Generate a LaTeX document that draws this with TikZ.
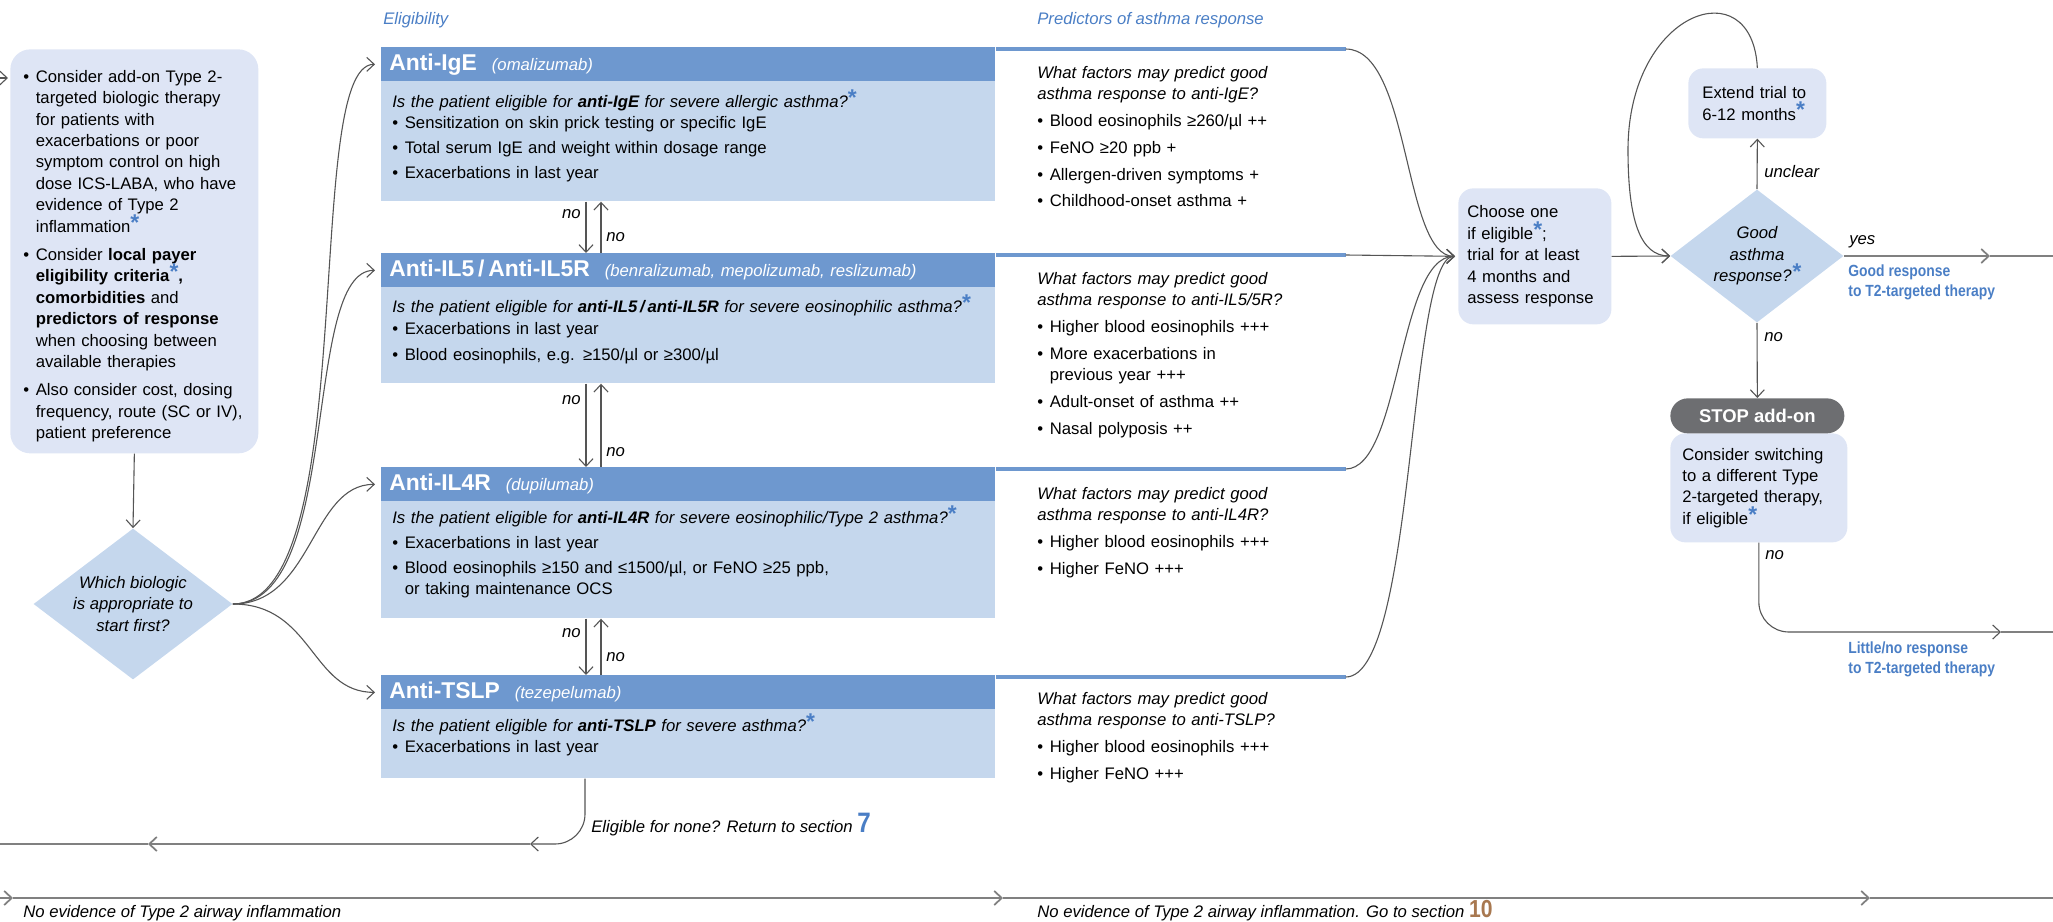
\documentclass[tikz,border=0pt]{standalone}
\usepackage{fontspec}
\setmainfont{Liberation Sans}
\newfontfamily\narrowfont[FakeStretch=0.86]{Liberation Sans}
\usetikzlibrary{shapes.geometric,arrows.meta}
\definecolor{headblue}{RGB}{110,152,207}
\definecolor{bodyblue}{RGB}{197,215,237}
\definecolor{boxlav}{RGB}{222,229,245}
\definecolor{lblblue}{RGB}{74,126,197}
\definecolor{stopgrey}{RGB}{109,110,113}
\definecolor{secbrown}{RGB}{168,120,80}
\definecolor{linegrey}{RGB}{85,85,85}

\newcommand\bast{\smash{\raisebox{0.25ex}{\textcolor{lblblue}{\fontsize{13}{13}\selectfont\bfseries*}}}}
\newcommand\bitem[2][3pt]{\par\vspace{#1}\noindent\hangindent=2.5mm\hangafter=1\makebox[2.5mm][l]{\textbullet}#2\par}
\newcommand\drug[2]{{\fontsize{13}{14}\selectfont\bfseries #1}\hspace{3mm}{\itshape #2}}

\tikzset{
  conn/.style={draw=linegrey, line width=0.22mm, >={Straight Barb[length=1.5mm,width=2.8mm]}},
  longline/.style={conn, draw=gray, line width=0.35mm},
  blueline/.style={draw=headblue, line width=0.8mm},
  headbar/.style={fill=headblue, text=white, anchor=north west, inner xsep=1.6mm, inner ysep=0pt, text width=119.6mm, minimum height=6.8mm, align=left},
  bodybox/.style={fill=bodyblue, anchor=north west, inner sep=0pt, minimum width=122.8mm},
  txt/.style={anchor=north west, inner sep=0pt, align=left},
  roundbox/.style={fill=boxlav, rounded corners=3mm, anchor=north west, inner ysep=0pt, align=left},
  decision/.style={diamond, fill=bodyblue, inner sep=-1.5mm, align=center, font=\fontsize{9.5}{12.2}\selectfont\itshape},
  stopbox/.style={fill=stopgrey, text=white, rounded corners=3.5mm, anchor=north west, minimum width=34.8mm, minimum height=7mm, inner sep=0pt, font=\fontsize{10.5}{12}\selectfont\bfseries},
  lbl/.style={inner sep=0pt, font=\fontsize{9.5}{12.2}\selectfont\itshape},
  coltitle/.style={lbl, text=lblblue, anchor=base west},
  outlbl/.style={inner sep=0pt, anchor=north west, align=left, text=lblblue, font=\narrowfont\bfseries\fontsize{9.2}{11.9}\selectfont},
}

\begin{document}
\begin{tikzpicture}[x=0.2mm,y=-0.2mm,font=\fontsize{9.5}{12.2}\selectfont]
\useasboundingbox (0,0) rectangle (2053,922);

% column titles
\node[coltitle] (elig-title) at (383,25) {Eligibility};
\node[coltitle] (pred-title) at (1037,25) {Predictors of asthma response};

% start of the section
\coordinate (in-start) at (0,78);
\node[roundbox, rounded corners=4mm, inner xsep=2.6mm, text width=44.4mm, minimum height=80.8mm] (addon) at (10,49) {%
  \bitem[0pt]{Consider add-on Type 2-\newline targeted biologic therapy\newline for patients with\newline exacerbations or poor\newline symptom control on high\newline dose ICS-LABA, who have\newline evidence of Type 2\newline inflammation\bast}
  \bitem[3.8pt]{Consider \textbf{local payer}\newline \textbf{eligibility criteria}\bast\textbf{,}\newline \textbf{comorbidities} and\newline \textbf{predictors of response}\newline when choosing between\newline available therapies}
  \bitem[3.8pt]{Also consider cost, dosing\newline frequency, route (SC or IV),\newline patient preference}};
\node[decision, minimum width=39.8mm, minimum height=30.2mm] (which) at (133,604) {Which biologic\\is appropriate to\\start first?};

% biologic boxes
\node[headbar] (ige-head) at (381,47) {\drug{Anti-IgE}{(omalizumab)}};
\node[bodybox, minimum height=24mm] (ige-body) at (381,81) {};
\node[txt, text width=118mm] (ige-txt) at (392,95) {{\itshape Is the patient eligible for \textbf{anti-IgE} for severe allergic asthma?}\bast
  \bitem[0pt]{Sensitization on skin prick testing or specific IgE}
  \bitem[2pt]{Total serum IgE and weight within dosage range}
  \bitem[2pt]{Exacerbations in last year}};

\node[headbar] (il5-head) at (381,253) {\drug{Anti-IL5\,/\,Anti-IL5R}{(benralizumab, mepolizumab, reslizumab)}};
\node[bodybox, minimum height=19.2mm] (il5-body) at (381,287) {};
\node[txt, text width=118mm] (il5-txt) at (392,300) {{\itshape Is the patient eligible for \textbf{anti-IL5\,/\,anti-IL5R} for severe eosinophilic asthma?}\bast
  \bitem[0.5pt]{Exacerbations in last year}
  \bitem[2.5pt]{Blood eosinophils, e.g. ≥150/µl or ≥300/µl}};

\node[headbar] (il4r-head) at (381,467) {\drug{Anti-IL4R}{(dupilumab)}};
\node[bodybox, minimum height=23.4mm] (il4r-body) at (381,501) {};
\node[txt, text width=118mm] (il4r-txt) at (392,511) {{\itshape Is the patient eligible for \textbf{anti-IL4R} for severe eosinophilic/Type 2 asthma?}\bast
  \bitem[2pt]{Exacerbations in last year}
  \bitem[2pt]{Blood eosinophils ≥150 and ≤1500/µl, or FeNO ≥25 ppb,\newline or taking maintenance OCS}};

\node[headbar] (tslp-head) at (381,675) {\drug{Anti-TSLP}{(tezepelumab)}};
\node[bodybox, minimum height=13.8mm] (tslp-body) at (381,709) {};
\node[txt, text width=118mm] (tslp-txt) at (392,719) {{\itshape Is the patient eligible for \textbf{anti-TSLP} for severe asthma?}\bast
  \bitem[0pt]{Exacerbations in last year}};

% header lines running on to the predictors
\draw[blueline] ([yshift=-0.4mm]ige-head.north east) -- ++(350,0) coordinate (ige-end);
\draw[blueline] ([yshift=-0.4mm]il5-head.north east) -- ++(350,0) coordinate (il5-end);
\draw[blueline] ([yshift=-0.4mm]il4r-head.north east) -- ++(350,0) coordinate (il4r-end);
\draw[blueline] ([yshift=-0.4mm]tslp-head.north east) -- ++(350,0) coordinate (tslp-end);

% predictors
\node[txt, text width=60mm] (ige-pred) at (1037,66) {{\itshape What factors may predict good\newline asthma response to anti-IgE?}
  \bitem{Blood eosinophils ≥260/µl ++}
  \bitem{FeNO ≥20 ppb +}
  \bitem{Allergen-driven symptoms +}
  \bitem{Childhood-onset asthma +}};
\node[txt, text width=60mm] (il5-pred) at (1037,272) {{\itshape What factors may predict good\newline asthma response to anti-IL5/5R?}
  \bitem{Higher blood eosinophils +++}
  \bitem{More exacerbations in\newline previous year +++}
  \bitem{Adult-onset of asthma ++}
  \bitem{Nasal polyposis ++}};
\node[txt, text width=60mm] (il4r-pred) at (1037,487) {{\itshape What factors may predict good\newline asthma response to anti-IL4R?}
  \bitem{Higher blood eosinophils +++}
  \bitem{Higher FeNO +++}};
\node[txt, text width=60mm] (tslp-pred) at (1037,692) {{\itshape What factors may predict good\newline asthma response to anti-TSLP?}
  \bitem{Higher blood eosinophils +++}
  \bitem{Higher FeNO +++}};

% trial and response
\node[roundbox, inner xsep=1.8mm, text width=27mm, minimum height=27.2mm] (choose) at (1458,188) {Choose one\newline if eligible\bast;\newline trial for at least\newline 4 months and\newline assess response};
\node[decision, minimum width=34.6mm, minimum height=26.6mm] (resp) at (1757,256) {Good\\asthma\\response?\bast};
\node[roundbox, inner xsep=2.8mm, text width=22mm, minimum height=14mm] (extend) at (1688,68) {Extend trial to\newline 6-12 months\bast};
\node[roundbox, inner xsep=2.4mm, text width=30.6mm, minimum height=21.8mm] (switch) at (1670,433) {Consider switching\newline to a different Type\newline 2-targeted therapy,\newline if eligible\bast};
\node[stopbox] (stop) at (1670,398) {STOP add-on};

% connectors on the left
\draw[conn,->,shorten >=0.4mm] (in-start) -- (in-start -| addon.west);
\draw[conn,->] (addon.south) -- (which.north);
\draw[conn,->,shorten >=1.2mm] (which.east) .. controls +(130,0) and +(-80,0) .. (ige-head.west);
\draw[conn,->,shorten >=1.2mm] (which.east) .. controls +(110,0) and +(-80,0) .. (il5-head.west);
\draw[conn,->,shorten >=1.2mm] (which.east) .. controls +(80,0) and +(-70,0) .. (il4r-head.west);
\draw[conn,->,shorten >=1.2mm] (which.east) .. controls +(80,0) and +(-70,0) .. (tslp-head.west);

% no links between the boxes
\draw[conn,->] ([xshift=41mm]ige-body.south west) -- ([xshift=41mm]il5-head.north west);
\draw[conn,<-] ([xshift=44mm]ige-body.south west) -- ([xshift=44mm]il5-head.north west);
\draw[conn,->] ([xshift=41mm]il5-body.south west) -- ([xshift=41mm]il4r-head.north west);
\draw[conn,<-] ([xshift=44mm]il5-body.south west) -- ([xshift=44mm]il4r-head.north west);
\draw[conn,->] ([xshift=41mm]il4r-body.south west) -- ([xshift=41mm]tslp-head.north west);
\draw[conn,<-] ([xshift=44mm]il4r-body.south west) -- ([xshift=44mm]tslp-head.north west);
\node[lbl, anchor=base east] (no-a1) at (581,218) {no};
\node[lbl, anchor=base west] (no-a2) at (606,241) {no};
\node[lbl, anchor=base east] (no-b1) at (581,404) {no};
\node[lbl, anchor=base west] (no-b2) at (606,456) {no};
\node[lbl, anchor=base east] (no-c1) at (581,637) {no};
\node[lbl, anchor=base west] (no-c2) at (606,661) {no};

% into the trial
\draw[conn,->,shorten >=0.6mm] (ige-end) .. controls +(65,0) and +(-55,0) .. (choose.west);
\draw[conn,->,shorten >=0.6mm] (il5-end) -- (choose.west);
\draw[conn,->,shorten >=0.6mm] (il4r-end) .. controls +(55,0) and +(-60,0) .. (choose.west);
\draw[conn,->,shorten >=0.6mm] (tslp-end) .. controls +(70,0) and +(-50,0) .. (choose.west);

% response branches
\draw[conn,->] (choose.east) -- (resp.west);
\draw[conn,->] (resp.north) -- (extend.south);
\coordinate (loop-side) at (1628,150);
\draw[conn,->] (extend.north) .. controls +(-5,-100) and +(0,-140) .. (loop-side) .. controls +(0,70) and +(-30,0) .. (resp.west);
\draw[conn,->] (resp.south) -- (stop.north);
\node[lbl, anchor=base west] (unclear-lbl) at (1764,177) {unclear};
\node[lbl, anchor=base west] (no-resp) at (1764,341) {no};

\coordinate (yes-tip) at (1990,256);
\coordinate (yes-end) at (2053,256);
\draw[longline,->] (resp.east) -- (yes-tip);
\draw[longline] (yes-tip) -- (yes-end);
\node[lbl, anchor=base west] (yes-lbl) at (1849,244) {yes};
\node[outlbl] (good-lbl) at (1848,264) {Good response\\to T2-targeted therapy};

\coordinate (little-tip) at (2001,632);
\coordinate (little-end) at (2053,632);
\draw[conn,->,rounded corners=6mm] (switch.south) |- (little-tip);
\draw[longline] (little-tip) -- (little-end);
\node[lbl, anchor=base west] (no-switch) at (1765,559) {no};
\node[outlbl] (little-lbl) at (1848,641) {Little/no response\\to T2-targeted therapy};

% eligible for none
\coordinate (none-tip) at (530,844);
\coordinate (none-tip2) at (148,844);
\coordinate (none-end) at (0,844);
\draw[conn,->,rounded corners=6mm] ([xshift=40.8mm]tslp-body.south west) |- (none-tip);
\draw[longline,->] (none-tip) -- (none-tip2);
\draw[longline] (none-tip2) -- (none-end);
\node[lbl, anchor=base west] (none-lbl) at (591,832) {Eligible for none? Return to section {\upshape\narrowfont\bfseries\fontsize{16}{16}\selectfont\color{lblblue}7}};

% no Type 2 evidence
\coordinate (bot-start) at (0,898);
\coordinate (bot-tip1) at (13,898);
\coordinate (bot-tip2) at (1003,898);
\coordinate (bot-tip3) at (1870,898);
\coordinate (bot-end) at (2053,898);
\draw[longline,->] (bot-start) -- (bot-tip1);
\draw[longline,->] (bot-tip1) -- (bot-tip2);
\draw[longline,->] (bot-tip2) -- (bot-tip3);
\draw[longline] (bot-tip3) -- (bot-end);
\node[lbl, anchor=base west] (bot-lbl1) at (23,917) {No evidence of Type 2 airway inflammation};
\node[lbl, anchor=base west] (bot-lbl2) at (1037,917) {No evidence of Type 2 airway inflammation. Go to section {\upshape\narrowfont\bfseries\fontsize{14}{14}\selectfont\color{secbrown}10}};
\end{tikzpicture}
\end{document}
